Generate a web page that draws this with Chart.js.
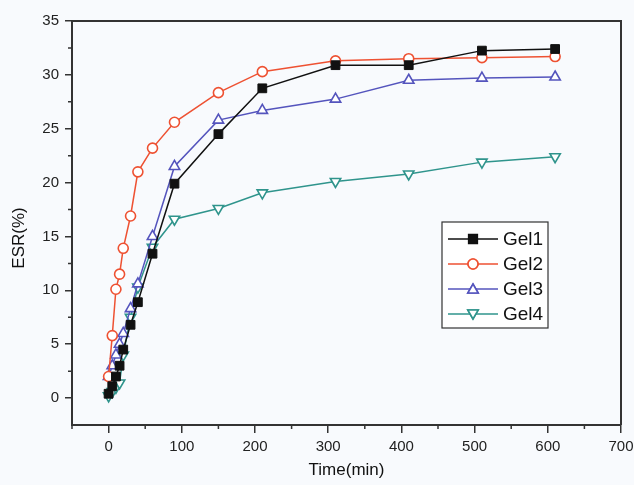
<!DOCTYPE html>
<html>
<head>
<meta charset="utf-8">
<script src="https://cdn.jsdelivr.net/npm/chart.js@4.4.1/dist/chart.umd.min.js"></script>
<style>
  html, body { margin: 0; padding: 0; background: #f8fafd; }
  #wrap { width: 634px; height: 485px; position: relative; }
</style>
</head>
<body>
<div id="wrap"><canvas id="myChart" width="634" height="485"></canvas></div>
<script>
// time points (min) shared by all four gels
var times = [0, 5, 10, 15, 20, 30, 40, 60, 90, 150, 210, 310, 410, 510, 610];
// ESR values (%)
var gel1 = [0.4, 1.1, 2.0, 3.0, 4.5, 6.8, 8.9, 13.4, 19.9, 24.5, 28.75, 30.9, 30.9, 32.25, 32.4];
var gel2 = [2.0, 5.8, 10.1, 11.5, 13.9, 16.9, 21.0, 23.2, 25.6, 28.35, 30.3, 31.3, 31.5, 31.6, 31.7];
var gel3 = [2.0, 3.0, 4.0, 5.0, 6.0, 8.3, 10.6, 15.0, 21.5, 25.8, 26.7, 27.75, 29.5, 29.7, 29.8];
var gel4 = [0.2, 0.6, 1.0, 1.4, 4.0, 7.5, 10.3, 14.0, 16.6, 17.6, 19.05, 20.1, 20.8, 21.9, 22.4];
var names = ["Gel1", "Gel2", "Gel3", "Gel4"];
var xTicks = [0, 100, 200, 300, 400, 500, 600, 700];
var yTicks = [0, 5, 10, 15, 20, 25, 30, 35];
var yTitle = 'ESR(%)';

var axisColor = '#333333';
var bg = '#f8fafd';
var fontFam = '"Liberation Sans", Arial, sans-serif';

function pts(ys) { // pair times with values
  var out = [];
  for (var i = 0; i < times.length; i++) out.push({x: times[i], y: ys[i]});
  return out;
}

// frame on top/right, minor ticks, y title and the boxed legend inside the plot
var extras = {
  id: 'extras',
  beforeDraw: function(chart) {
    var c = chart.ctx;
    c.save();
    c.fillStyle = bg;
    c.fillRect(0, 0, chart.width, chart.height);
    c.restore();
  },
  afterDraw: function(chart) {
    var c = chart.ctx, a = chart.chartArea;
    var xs = chart.scales.x, ys = chart.scales.y;
    c.save();
    c.strokeStyle = axisColor;
    c.lineWidth = 2;
    c.beginPath();
    c.moveTo(a.left, a.top); c.lineTo(a.right, a.top); c.lineTo(a.right, a.bottom);
    c.stroke();
    // minor ticks
    c.lineWidth = 1.5;
    c.beginPath();
    for (var v = -50; v <= 650; v += 100) {
      var px = xs.getPixelForValue(v);
      c.moveTo(px, a.bottom); c.lineTo(px, a.bottom + 4);
    }
    for (var w = 2.5; w <= 32.5; w += 5) {
      var py = ys.getPixelForValue(w);
      c.moveTo(a.left, py); c.lineTo(a.left - 4, py);
    }
    c.stroke();

    // y title, a bit below the middle like the original
    c.save();
    c.translate(19, 238);
    c.rotate(-Math.PI / 2);
    c.font = '17px ' + fontFam;
    c.fillStyle = '#111111';
    c.textAlign = 'center';
    c.textBaseline = 'middle';
    c.fillText(yTitle, 0, 0);
    c.restore();

    // legend
    var lx = 442, ly = 222, lw = 106, lh = 106;
    c.fillStyle = '#ffffff';
    c.fillRect(lx, ly, lw, lh);
    c.strokeStyle = axisColor;
    c.lineWidth = 1.2;
    c.strokeRect(lx, ly, lw, lh);
    c.font = '19px ' + fontFam;
    c.textBaseline = 'middle';
    chart.data.datasets.forEach(function(ds, i) {
      var yy = ly + 17 + i * 25;
      c.strokeStyle = ds.borderColor;
      c.lineWidth = 1.5;
      c.beginPath(); c.moveTo(lx + 6, yy); c.lineTo(lx + 56, yy); c.stroke();
      Chart.helpers.drawPoint(c, {
        pointStyle: ds.pointStyle, radius: ds.pointRadius, rotation: ds.pointRotation || 0,
        borderWidth: ds.pointBorderWidth
      }, lx + 31, yy + (ds.pointStyle === 'triangle' ? (ds.pointRotation ? -1 : 1) : 0));
      c.fillStyle = ds.pointBackgroundColor;
      c.strokeStyle = ds.borderColor;
      c.lineWidth = ds.pointBorderWidth;
      c.fill(); c.stroke();
      c.fillStyle = '#111111';
      c.fillText(ds.label, lx + 61, yy + 1);
    });
    c.restore();
  }
};

var ctx = document.getElementById('myChart').getContext('2d');
var chart = new Chart(ctx, {
  type: 'line',
  data: {
    datasets: [{
      label: names[0], data: pts(gel1),
      borderColor: '#111111', backgroundColor: '#111111',
      pointStyle: 'rect', pointRadius: 6.2, pointBackgroundColor: '#111111', pointBorderWidth: 1
    }, {
      label: names[1], data: pts(gel2),
      borderColor: '#ee5132', backgroundColor: '#ee5132',
      pointStyle: 'circle', pointRadius: 5, pointBackgroundColor: '#ffffff', pointBorderWidth: 1.6
    }, {
      label: names[2], data: pts(gel3),
      borderColor: '#5454bd', backgroundColor: '#5454bd',
      pointStyle: 'triangle', pointRadius: 6, pointBackgroundColor: '#ffffff', pointBorderWidth: 1.6
    }, {
      label: names[3], data: pts(gel4),
      borderColor: '#2f948c', backgroundColor: '#2f948c',
      pointStyle: 'triangle', pointRotation: 180, pointRadius: 6, pointBackgroundColor: '#ffffff', pointBorderWidth: 1.6
    }]
  },
  options: {
    responsive: false,
    animation: false,
    devicePixelRatio: 1,
    elements: { line: { borderWidth: 1.5, tension: 0 } },
    layout: { padding: { left: 0, top: 21, right: 13, bottom: 0 } },
    plugins: { legend: { display: false }, tooltip: { enabled: false } },
    scales: {
      x: {
        type: 'linear', min: -50, max: 700,
        afterBuildTicks: function(s) { s.ticks = xTicks.map(function(v) { return {value: v}; }); },
        afterFit: function(s) { s.height = 60; s.paddingLeft = 0; s.paddingRight = 0; },
        border: { display: true, color: axisColor, width: 2 },
        grid: { display: true, drawOnChartArea: false, drawTicks: true, tickLength: 8, color: axisColor, lineWidth: 1.5 },
        ticks: { color: '#222222', padding: 5, maxRotation: 0, autoSkip: false, font: { family: fontFam, size: 15 } },
        title: { display: true, text: 'Time(min)', color: '#111111', padding: { top: 4 }, font: { family: fontFam, size: 17 } }
      },
      y: {
        type: 'linear', min: -2.5, max: 35,
        afterBuildTicks: function(s) { s.ticks = yTicks.map(function(v) { return {value: v}; }); },
        afterFit: function(s) { s.width = 72; s.paddingTop = 0; s.paddingBottom = 0; },
        border: { display: true, color: axisColor, width: 2 },
        grid: { display: true, drawOnChartArea: false, drawTicks: true, tickLength: 7, color: axisColor, lineWidth: 1.5 },
        ticks: { color: '#222222', padding: 6, autoSkip: false, font: { family: fontFam, size: 15 } },
        title: { display: false }
      }
    }
  },
  plugins: [extras]
});
</script>
</body>
</html>
